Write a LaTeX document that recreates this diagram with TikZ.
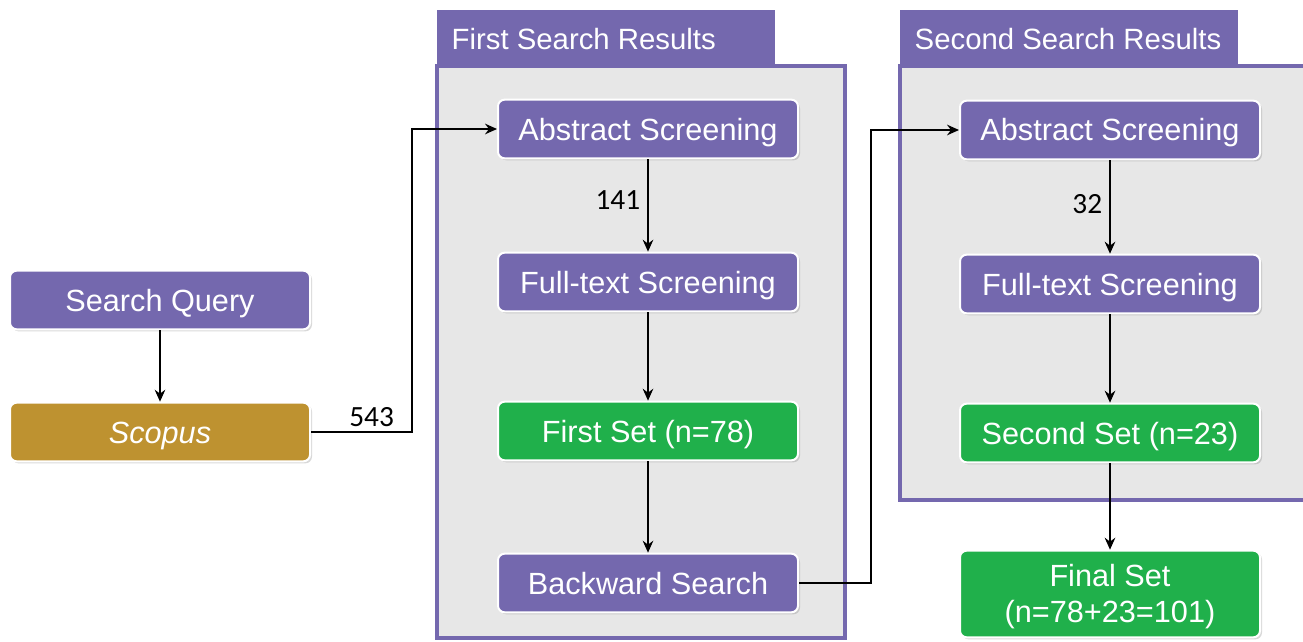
\documentclass[tikz,border=0pt]{standalone}
\usepackage{fontspec}
\setmainfont{Liberation Sans}
\newfontfamily\numfont{Carlito}
\usetikzlibrary{arrows.meta,shadows}
\definecolor{boxviolet}{HTML}{7468AE}
\definecolor{boxgreen}{HTML}{20B04B}
\definecolor{boxgold}{HTML}{BE9230}
\definecolor{panelgray}{HTML}{E7E7E7}
\begin{document}
\begin{tikzpicture}[x=0.75pt,y=-0.75pt,
  stepbox/.style={rounded corners=5pt, draw=white, line width=1.5pt,
    minimum width=225pt, minimum height=44pt, text=white, align=center,
    font=\fontsize{23}{27}\selectfont, text height=16.5pt, text depth=0pt,
    drop shadow={opacity=0.3, shadow xshift=1.5pt, shadow yshift=-1.5pt}},
  purplebox/.style={stepbox, fill=boxviolet},
  greenbox/.style={stepbox, fill=boxgreen},
  goldbox/.style={stepbox, fill=boxgold},
  flow/.style={line width=1.1pt, -{Stealth[length=9pt,width=8pt,inset=3pt]}},
  count/.style={font=\numfont\fontsize{22}{24}\selectfont, text=black},
  tabtext/.style={anchor=west, text=white, font=\fontsize{22}{26}\selectfont},
  panel/.style={fill=panelgray, draw=boxviolet, line width=2.3pt}]
\useasboundingbox (0,0) rectangle (1303,642);
\clip (0,0) rectangle (1303,642);

% result panels with their title tabs
\fill[boxviolet] (437,10) rectangle (775,67);
\draw[panel] (437,66) rectangle (845,638);
\node[tabtext] (t1) at (447,39) {First Search Results};

\fill[boxviolet] (900,10) rectangle (1238,67);
\draw[panel] (900,66) rectangle (1330,500);
\node[tabtext] (t2) at (910,39) {Second Search Results};

% query stage
\node[purplebox] (sq) at (160,300) {Search Query};
\node[goldbox] (sc) at (160,432) {\itshape Scopus};

% first search
\node[purplebox] (as1) at (648,129) {Abstract Screening};
\node[purplebox] (fs1) at (648,282) {Full-text Screening};
\node[greenbox] (set1) at (648,431) {First Set (n=78)};
\node[purplebox] (bw) at (648,583) {Backward Search};

% second search
\node[purplebox] (as2) at (1110,130) {Abstract Screening};
\node[purplebox] (fs2) at (1110,284) {Full-text Screening};
\node[greenbox] (set2) at (1110,433) {Second Set (n=23)};
\node[greenbox, minimum height=65pt, text height=, text depth=] (fin) at (1110,594)
      {\raisebox{-8.6pt}[0pt][0pt]{\begin{tabular}{@{}c@{}}Final Set\\[-0.5pt](n=78+23=101)\end{tabular}}};

% connectors
\coordinate (k1) at (412,432);
\coordinate (k2) at (871,583);
\draw[flow] (sq) -- (sc);
\draw[flow] (sc.east) -- node[count, above, pos=0.6] {543} (k1) |- (as1.west);
\draw[flow] (as1) -- node[count, left, xshift=-2pt, yshift=4pt] {141} (fs1);
\draw[flow] (fs1) -- (set1);
\draw[flow] (set1) -- (bw);
\draw[flow] (bw.east) -- (k2) |- (as2.west);
\draw[flow] (as2) -- node[count, left, xshift=-2pt, yshift=2pt] {32} (fs2);
\draw[flow] (fs2) -- (set2);
\draw[flow] (set2) -- (fin);
\end{tikzpicture}
\end{document}
